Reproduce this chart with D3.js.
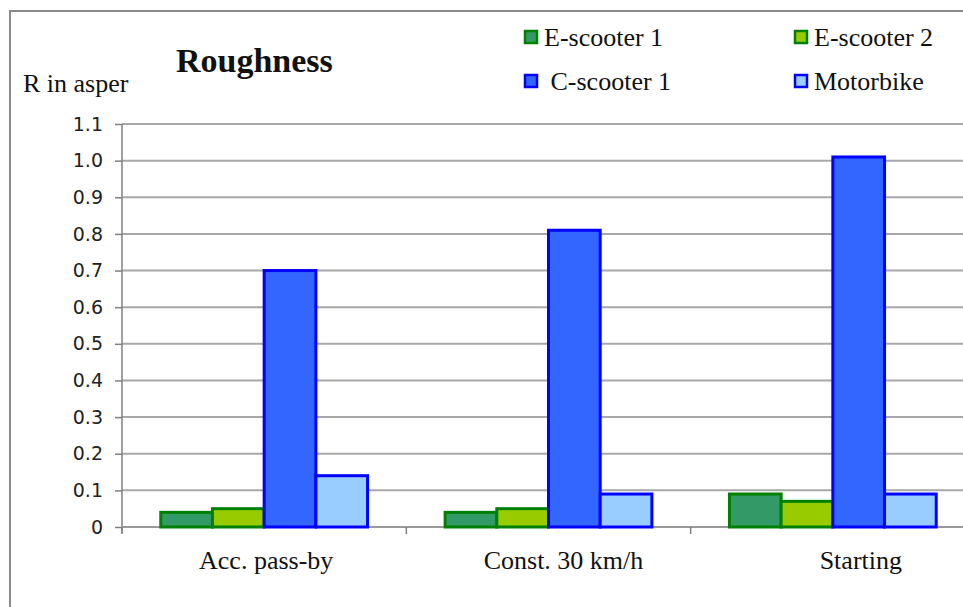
<!DOCTYPE html>
<html>
<head>
<meta charset="utf-8">
<script src="https://cdn.jsdelivr.net/npm/d3@7/dist/d3.min.js"></script>
<style>
  html, body { margin: 0; padding: 0; background: #fff; }
  svg { display: block; }
  .serif { font-family: "Liberation Serif", "Times New Roman", serif; }
  .sans { font-family: "DejaVu Sans", sans-serif; }
</style>
</head>
<body>
<svg id="chart" width="963" height="607"></svg>
<script>
// Roughness per driving condition, in asper
const categories = ["Acc. pass-by", "Const. 30 km/h", "Starting"];
const seriesNames = ["E-scooter 1", "E-scooter 2", " C-scooter 1", "Motorbike"];
const eScooter1 = [0.04, 0.04, 0.09];
const eScooter2 = [0.05, 0.05, 0.07];
const cScooter1 = [0.70, 0.81, 1.01];
const motorbike = [0.14, 0.09, 0.09];
const yTickValues = [0, 0.1, 0.2, 0.3, 0.4, 0.5, 0.6, 0.7, 0.8, 0.9, 1.0, 1.1];
const yTickLabels = ["0", "0.1", "0.2", "0.3", "0.4", "0.5", "0.6", "0.7", "0.8", "0.9", "1.0", "1.1"];

const seriesValues = [eScooter1, eScooter2, cScooter1, motorbike];
const fills = ["#339966", "#99cc00", "#3366ff", "#99ccff"];
const strokes = ["#008000", "#008000", "#0000ff", "#0000ff"];

const svg = d3.select("#chart");

// outer frame (top and left edges visible)
svg.append("path")
  .attr("d", "M10,607 V11 H963")
  .attr("fill", "none")
  .attr("stroke", "#8a8a8a")
  .attr("stroke-width", 2);

const plot = { left: 122, right: 975, top: 124, bottom: 527 };

const x = d3.scaleBand()
  .domain(categories)
  .range([plot.left, plot.right])
  .paddingInner(0).paddingOuter(0);

const xs = d3.scaleBand()
  .domain(d3.range(seriesNames.length))
  .range([0, x.bandwidth()])
  .paddingInner(0).paddingOuter(0.75);

const y = d3.scaleLinear().domain([0, 1.1]).range([plot.bottom, plot.top]);

// gridlines
svg.append("g")
  .selectAll("line")
  .data(yTickValues.filter(v => v > 0))
  .join("line")
  .attr("x1", plot.left).attr("x2", 963)
  .attr("y1", d => y(d)).attr("y2", d => y(d))
  .attr("stroke", "#a8a8a8")
  .attr("stroke-width", 2);

// y axis
const yAxis = svg.append("g")
  .attr("transform", `translate(${plot.left},0)`)
  .call(d3.axisLeft(y)
    .tickValues(yTickValues)
    .tickFormat((d, i) => yTickLabels[i])
    .tickSize(7)
    .tickPadding(12));
yAxis.select(".domain").attr("stroke", "#808080").attr("stroke-width", 1.5)
  .attr("d", `M0,${plot.top}V${plot.bottom + 6}`);
yAxis.selectAll(".tick line").attr("stroke", "#808080").attr("stroke-width", 1.5);
yAxis.selectAll(".tick text")
  .attr("class", "sans")
  .attr("font-size", 19)
  .attr("fill", "#222");

// x axis; category labels drift slightly right of their band centres
const xAxis = svg.append("g")
  .attr("transform", `translate(0,${plot.bottom})`)
  .call(d3.axisBottom(x).tickSize(0).tickPadding(24));
xAxis.select(".domain").attr("stroke", "#999").attr("stroke-width", 2)
  .attr("d", `M${plot.left},0H963`);
xAxis.selectAll(".tick text")
  .attr("class", "serif")
  .attr("font-size", 26)
  .attr("fill", "#111")
  .attr("dx", (d, i) => 2 + i * 13);
// category separators
svg.append("g")
  .selectAll("line")
  .data(categories)
  .join("line")
  .attr("x1", d => x(d)).attr("x2", d => x(d))
  .attr("y1", plot.bottom).attr("y2", plot.bottom + 7)
  .attr("stroke", "#808080").attr("stroke-width", 1.5);

// bars
const groups = svg.append("g")
  .selectAll("g")
  .data(categories)
  .join("g")
  .attr("transform", d => `translate(${x(d)},0)`);

groups.selectAll("rect")
  .data((c, ci) => seriesValues.map((vals, si) => ({ si, v: vals[ci] })))
  .join("rect")
  .attr("x", d => xs(d.si))
  .attr("width", xs.bandwidth())
  .attr("y", d => y(d.v))
  .attr("height", d => y(0) - y(d.v))
  .attr("fill", d => fills[d.si])
  .attr("stroke", d => strokes[d.si])
  .attr("stroke-width", 3);

// title and axis unit
svg.append("text")
  .attr("class", "serif")
  .attr("x", 176).attr("y", 72)
  .attr("font-size", 34)
  .attr("font-weight", "bold")
  .attr("fill", "#111")
  .text("Roughness");

svg.append("text")
  .attr("class", "serif")
  .attr("x", 23).attr("y", 92)
  .attr("font-size", 26)
  .attr("fill", "#111")
  .text("R in asper");

// legend, two columns
const legend = svg.append("g")
  .selectAll("g")
  .data(seriesNames)
  .join("g")
  .attr("transform", (d, i) => `translate(${i % 2 === 0 ? 524 : 794},${i < 2 ? 30 : 74})`);

legend.append("rect")
  .attr("x", 1).attr("y", 1)
  .attr("width", 12).attr("height", 12)
  .attr("fill", (d, i) => fills[i])
  .attr("stroke", (d, i) => strokes[i])
  .attr("stroke-width", 2.5);

legend.append("text")
  .attr("class", "serif")
  .attr("x", 20).attr("y", 16)
  .attr("font-size", 26)
  .attr("fill", "#111")
  .style("white-space", "pre")
  .text(d => d);
</script>
</body>
</html>
